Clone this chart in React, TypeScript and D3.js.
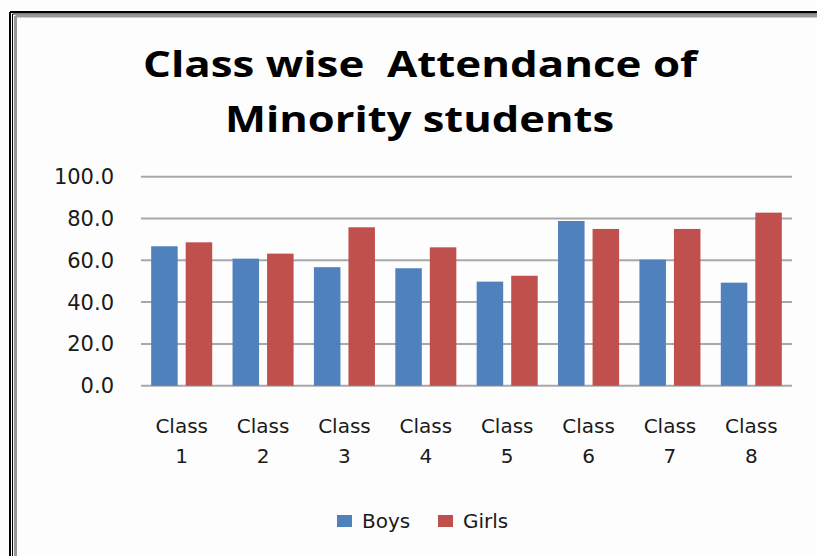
import React from "react";
import * as d3 from "d3";

const categories = ["Class 1", "Class 2", "Class 3", "Class 4", "Class 5", "Class 6", "Class 7", "Class 8"];
const seriesNames = ["Boys", "Girls"];
const boys = [66.7, 60.8, 56.7, 56.2, 49.8, 78.8, 60.3, 49.3];
const girls = [68.6, 63.2, 75.8, 66.2, 52.6, 75.0, 75.0, 82.8];
const yTicks = [0, 20, 40, 60, 80, 100];
const titleLines = ["Class wise  Attendance of", "Minority students"];
const colors = ["#4F81BD", "#C0504D"];

const W = 817;
const H = 556;
const FONT = "'DejaVu Sans', 'Open Sans', sans-serif";
const TFONT = "'Open Sans', 'DejaVu Sans', sans-serif";

export default function App() {
  const x0 = d3.scaleBand<string>().domain(categories).range([141, 792]).paddingInner(0.25).paddingOuter(0.125);
  const x1 = d3.scaleBand<string>().domain(seriesNames).range([0, x0.bandwidth()]).paddingInner(0.232);
  const y = d3.scaleLinear().domain([0, 100]).range([385.7, 176.7]);
  const series = [boys, girls];

  return (
    <div style={{ position: "fixed", left: 0, top: 0 }}>
      <svg width={W} height={H} style={{ display: "block", background: "#fdfdfd" }}>
        {/* frame */}
        <line x1={10} y1={12} x2={10} y2={H} stroke="#000" strokeWidth={2} />
        <line x1={10} y1={12} x2={W} y2={12} stroke="#000" strokeWidth={2} />
        <line x1={12.5} y1={14} x2={12.5} y2={H} stroke="#000" strokeWidth={1} />
        <line x1={12.5} y1={14} x2={W} y2={14} stroke="#000" strokeWidth={1} />
        <line x1={15.5} y1={16} x2={15.5} y2={H} stroke="#999" strokeWidth={3} />
        <line x1={15.5} y1={16} x2={W} y2={16} stroke="#999" strokeWidth={3} />

        {/* title */}
        <text x={420} y={77} textAnchor="middle" fontFamily={TFONT} fontWeight="bold" fontSize={36}
          textLength={554} lengthAdjust="spacingAndGlyphs" fill="#000" style={{ whiteSpace: "pre" }}>
          {titleLines[0]}
        </text>
        <text x={419.5} y={131.5} textAnchor="middle" fontFamily={TFONT} fontWeight="bold" fontSize={36}
          textLength={389} lengthAdjust="spacingAndGlyphs" fill="#000">
          {titleLines[1]}
        </text>

        {/* gridlines */}
        {yTicks.map((t) => (
          <line key={t} x1={141} x2={792} y1={y(t)} y2={y(t)} stroke="#a8a8a8" strokeWidth={2} />
        ))}
        {/* y labels */}
        {yTicks.map((t) => (
          <text key={"l" + t} x={114} y={y(t) + 7.5} textAnchor="end" fontFamily={FONT} fontSize={21} fill="#1a1a1a">
            {t.toFixed(1)}
          </text>
        ))}

        {/* bars */}
        {categories.map((c, i) => (
          <g key={c} transform={`translate(${x0(c)},0)`}>
            {seriesNames.map((s, j) => (
              <rect key={s} x={x1(s)} y={y(series[j][i])} width={x1.bandwidth()} height={y(0) - y(series[j][i])}
                fill={colors[j]} />
            ))}
          </g>
        ))}

        {/* x labels */}
        {categories.map((c) => {
          const [w1, w2] = c.split(" ");
          const cx = (x0(c) as number) + x0.bandwidth() / 2;
          return (
            <g key={"x" + c}>
              <text x={cx} y={433} textAnchor="middle" fontFamily={FONT} fontSize={20} fill="#1a1a1a">{w1}</text>
              <text x={cx} y={463} textAnchor="middle" fontFamily={FONT} fontSize={20} fill="#1a1a1a">{w2}</text>
            </g>
          );
        })}

        {/* legend */}
        {seriesNames.map((s, j) => {
          const lx = [337, 438][j];
          return (
            <g key={"lg" + s}>
              <rect x={lx} y={515} width={15} height={12} fill={colors[j]} />
              <text x={lx + 25} y={528} fontFamily={FONT} fontSize={20} fill="#1a1a1a">{s}</text>
            </g>
          );
        })}
      </svg>
    </div>
  );
}
